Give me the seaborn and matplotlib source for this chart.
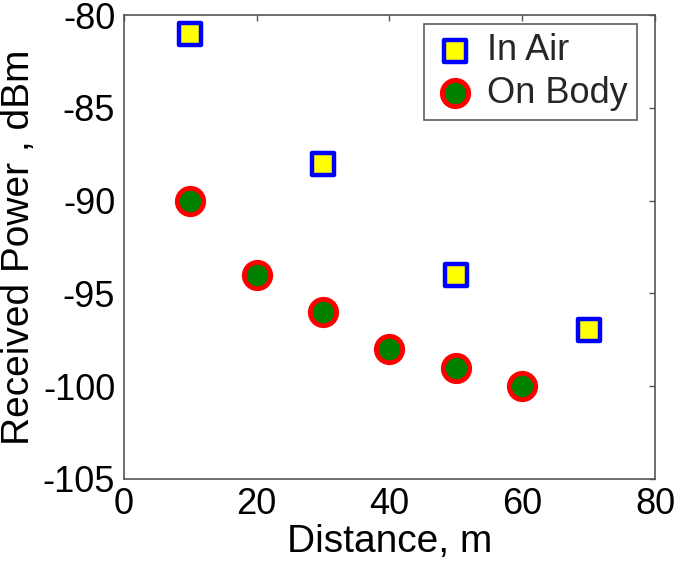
import numpy as np
import pandas as pd
import seaborn as sns
import matplotlib.pyplot as plt

# data
air_dist = [10, 30, 50, 70]
air_power = [-81, -88, -94, -97]
body_dist = [10, 20, 30, 40, 50, 60]
body_power = [-90, -94, -96, -98, -99, -100]

air = pd.DataFrame({'dist': air_dist, 'power': air_power})
body = pd.DataFrame({'dist': body_dist, 'power': body_power})

sns.set_style('white')
plt.rcParams['font.family'] = ['Liberation Sans', 'DejaVu Sans']
plt.rcParams['axes.unicode_minus'] = False

fig = plt.figure(figsize=(6.75, 5.62), dpi=100)
ax = fig.add_axes([0.183, 0.148, 0.788, 0.825])

sns.scatterplot(data=air, x='dist', y='power', ax=ax, marker='s', s=260,
                color='yellow', edgecolor='blue', linewidth=3.2, label='In Air', zorder=3)
sns.scatterplot(data=body, x='dist', y='power', ax=ax, marker='o', s=360,
                color='green', edgecolor='red', linewidth=3.5, label='On Body', zorder=3)

ax.set_xlim(0, 80)
ax.set_ylim(-105, -80)
ax.set_xticks([0, 20, 40, 60, 80])
ax.set_yticks([-105, -100, -95, -90, -85, -80])
ax.tick_params(direction='in', length=4, width=1, color='#555555', labelsize=26,
               labelcolor='black', top=True, right=True)
ax.tick_params(axis='y', pad=6)
ax.tick_params(axis='x', pad=6)
for sp in ax.spines.values():
    sp.set_color('#555555')
    sp.set_linewidth(1.2)

ax.set_xlabel('Distance, m', fontsize=28, labelpad=1, color='black')
ax.set_ylabel('Received Power , dBm', fontsize=28, labelpad=4, color='black')

leg = ax.legend(loc='upper right', fontsize=26, frameon=True, fancybox=False,
                handletextpad=0.3, borderpad=0.25, labelspacing=0.2,
                handlelength=1.2, borderaxespad=0, bbox_to_anchor=(0.965, 0.98))
leg.get_frame().set_edgecolor('#333333')
leg.get_frame().set_linewidth(1.2)

fig.savefig('out.png', dpi=100)
